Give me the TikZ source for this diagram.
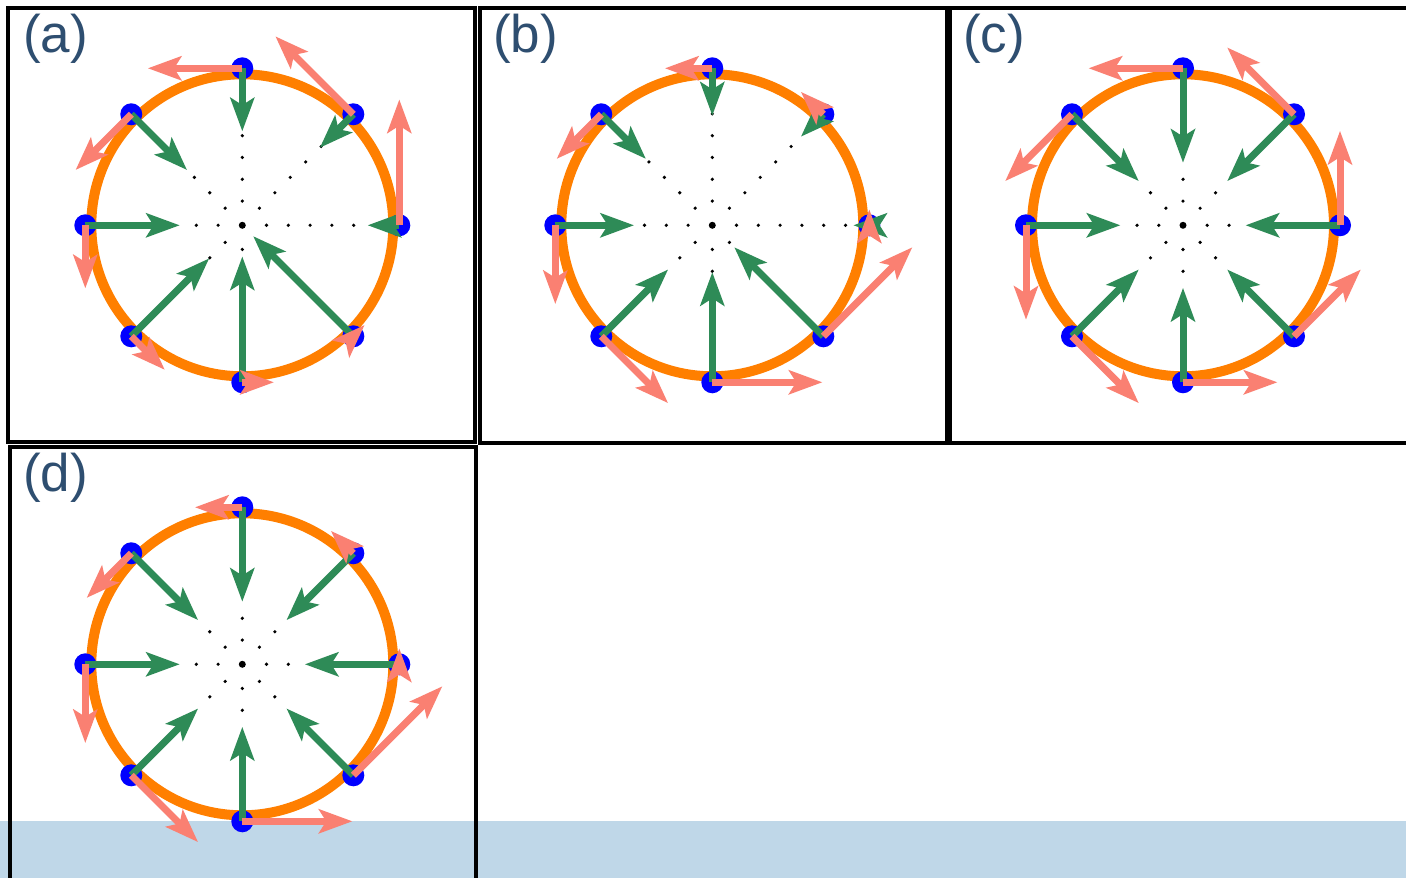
\documentclass[tikz,border=0pt]{standalone}
\usepackage{fontspec}
\setmainfont{Liberation Sans}
\usetikzlibrary{calc}
\definecolor{ringorange}{RGB}{255,127,0}
\definecolor{arrgreen}{RGB}{46,139,87}
\definecolor{arrsalmon}{RGB}{250,128,114}
\definecolor{dotblue}{RGB}{0,0,255}
\definecolor{labelblue}{RGB}{46,78,112}
\definecolor{bandblue}{RGB}{191,215,232}

\tikzset{
  ringline/.style={draw=ringorange, line width=10pt},
  frameline/.style={draw=black, line width=4pt},
  labeltext/.style={text=labelblue, inner sep=0pt, anchor=base west, font=\fontsize{53}{60}\selectfont},
  bead/.style={fill=dotblue},
  pathdot/.style={fill=black},
}

% #1 colour, #2 base coordinate name, #3 direction angle, #4 length
\newcommand\vecarrow[4]{%
  \begin{scope}[shift={(#2)}, rotate=#3]
    \pgfmathsetmacro\arrL{#4}%
    \ifdim\arrL pt>25pt
      \draw[#1, line width=7pt] (0,0) -- ({\arrL-25},0);
    \fi
    \fill[#1] (\arrL,0) -- ({\arrL-34},12.5) -- ({\arrL-26},0) -- ({\arrL-34},-12.5) -- cycle;
  \end{scope}}

% #1 centre coordinate name, #2 list angle/green/salmon/ndots
\newcommand\ringpanel[2]{%
  \fill[pathdot] (#1) circle[radius=3.5];
  \foreach \a/\g/\s/\n in {#2}{%
    \ifnum\n>0
      \foreach \j in {1,...,\n}{\fill[pathdot] ($(#1)+(\a:{2.4+21.8*\j})$) circle[radius=1.8];}
    \fi
  }
  \draw[ringline] (#1) circle[radius=151];
  \foreach \a/\g/\s/\n in {#2}{%
    \coordinate (#1-\a) at ($(#1)+(\a:157)$);
    \fill[bead] (#1-\a) circle[radius=11];
  }
  \foreach \a/\g/\s/\n in {#2}{%
    \vecarrow{arrgreen}{#1-\a}{\a+180}{\g*15.7}
  }
  \foreach \a/\g/\s/\n in {#2}{%
    \vecarrow{arrsalmon}{#1-\a}{\a+90}{\s*15.7}
  }
}

\begin{document}
\begin{tikzpicture}[x=1pt,y=1pt]
  \useasboundingbox (0,0) rectangle (1406,878);
  \clip (0,0) rectangle (1406,878);
  \fill[white] (0,0) rectangle (1406,878);
  % water band
  \fill[bandblue] (0,0) rectangle (1406,57);
  % panel frames
  \draw[frameline] (8,870) rectangle (475,435.5);
  \draw[frameline] (480,870) rectangle (947,435);
  \draw[frameline] (950,870) rectangle (1425,435);
  \draw[frameline] (10,431) rectangle (475.5,-20);
  % labels
  \node[labeltext] (la) at (23,825) {(a)};
  \node[labeltext] (lb) at (493,825) {(b)};
  \node[labeltext] (lc) at (963,825) {(c)};
  \node[labeltext] (ld) at (23,386) {(d)};
  % centres
  \coordinate (pa) at (242.3,652.7);
  \coordinate (pb) at (712.3,652.7);
  \coordinate (pc) at (1183,652.7);
  \coordinate (pd) at (242.3,213.7);
  \ringpanel{pa}{0/2/8/5, 45/3/7/5, 90/4/6/4, 135/5/5/3, 180/6/4/2, 225/7/3/2, 270/8/2/1, 315/9/1/0}
  \ringpanel{pb}{0/1/1/6, 45/2/2/5, 90/3/3/5, 135/4/4/4, 180/5/5/3, 225/6/6/2, 270/7/7/2, 315/8/8/1}
  \ringpanel{pc}{0/6/6/2, 45/6/6/2, 90/6/6/2, 135/6/6/2, 180/6/6/2, 225/6/6/2, 270/6/6/2, 315/6/6/2}
  \ringpanel{pd}{0/6/1/2, 45/6/2/2, 90/6/3/2, 135/6/4/2, 180/6/5/2, 225/6/6/2, 270/6/7/2, 315/6/8/2}
\end{tikzpicture}
\end{document}
